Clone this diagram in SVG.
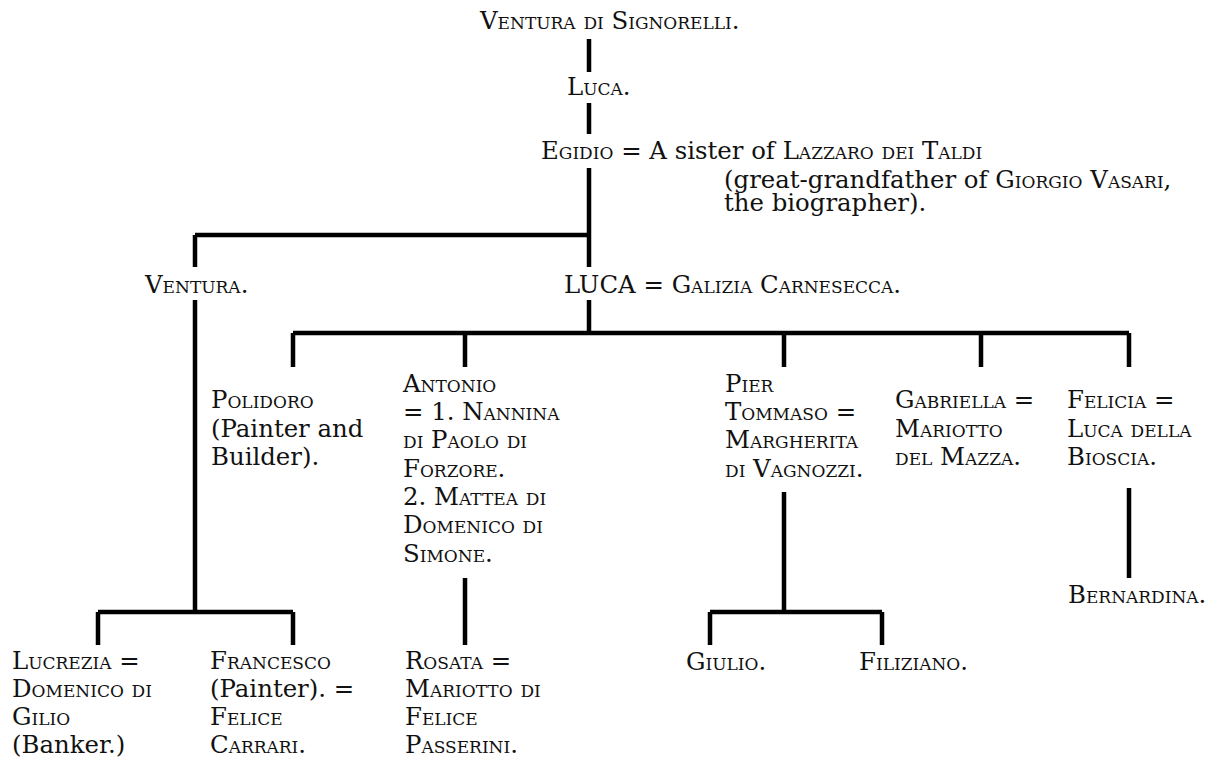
<svg xmlns="http://www.w3.org/2000/svg" width="1205" height="760" viewBox="0 0 1205 760">
<style>
text{font-family:"DejaVu Serif","Liberation Serif",serif;font-size:24.4px;fill:#111}
.sc{font-variant:small-caps}
.ln{stroke:#000;stroke-width:4.5;fill:none;stroke-linecap:butt}
</style>
<rect width="1205" height="760" fill="#fff"/>
<g id="connectors" class="ln">
<path d="M589 39V72M589 103V134M589 168V267M589 300V333"/>
<path d="M195 235H589M195 235V267M195 300V612"/>
<path d="M293 333H1129M293 333V367M465 333V367M784 333V367M981 333V367M1129 333V367"/>
<path d="M784 492V612M710 612H882M710 612V645M882 612V645"/>
<path d="M1129 488V578"/>
<path d="M465 578V645"/>
<path d="M98 612H293M98 612V645M293 612V645"/>
</g>
<g id="n-ventura-sig"><text class="sc" x="480" y="29">Ventura di Signorelli.</text></g>
<g id="n-luca1"><text class="sc" x="567" y="95">Luca.</text></g>
<g id="n-egidio"><text x="541" y="159"><tspan class="sc">Egidio</tspan> = A sister of <tspan class="sc">Lazzaro dei Taldi</tspan></text>
<text x="724" y="188">(great-grandfather of <tspan class="sc">Giorgio Vasari</tspan>,</text>
<text x="724" y="211">the biographer).</text></g>
<g id="n-ventura"><text class="sc" x="145" y="293">Ventura.</text></g>
<g id="n-luca2"><text x="564" y="293">LUCA = <tspan class="sc">Galizia Carnesecca.</tspan></text></g>
<g id="n-polidoro"><text class="sc" x="211" y="408">Polidoro</text><text x="211" y="437">(Painter and</text><text x="211" y="465">Builder).</text></g>
<g id="n-antonio"><text class="sc" x="403" y="392">Antonio</text><text class="sc" x="403" y="420">= 1. Nannina</text><text class="sc" x="403" y="448">di Paolo di</text><text class="sc" x="403" y="477">Forzore.</text><text class="sc" x="403" y="505">2. Mattea di</text><text class="sc" x="403" y="533">Domenico di</text><text class="sc" x="403" y="562">Simone.</text></g>
<g id="n-pier"><text class="sc" x="725" y="392">Pier</text><text class="sc" x="725" y="420">Tommaso =</text><text class="sc" x="725" y="448">Margherita</text><text class="sc" x="725" y="477">di Vagnozzi.</text></g>
<g id="n-gabriella"><text class="sc" x="895" y="408">Gabriella =</text><text class="sc" x="895" y="437">Mariotto</text><text class="sc" x="895" y="465">del Mazza.</text></g>
<g id="n-felicia"><text class="sc" x="1067" y="408">Felicia =</text><text class="sc" x="1067" y="437">Luca della</text><text class="sc" x="1067" y="465">Bioscia.</text></g>
<g id="n-bernardina"><text class="sc" x="1068" y="603">Bernardina.</text></g>
<g id="n-giulio"><text class="sc" x="686" y="670">Giulio.</text></g>
<g id="n-filiziano"><text class="sc" x="859" y="670">Filiziano.</text></g>
<g id="n-rosata"><text class="sc" x="405" y="669">Rosata =</text><text class="sc" x="405" y="697">Mariotto di</text><text class="sc" x="405" y="725">Felice</text><text class="sc" x="405" y="753">Passerini.</text></g>
<g id="n-lucrezia"><text class="sc" x="12" y="669">Lucrezia =</text><text class="sc" x="12" y="697">Domenico di</text><text class="sc" x="12" y="725">Gilio</text><text x="12" y="753">(Banker.)</text></g>
<g id="n-francesco"><text class="sc" x="210" y="669">Francesco</text><text x="210" y="697">(Painter). =</text><text class="sc" x="210" y="725">Felice</text><text class="sc" x="210" y="753">Carrari.</text></g>
</svg>
